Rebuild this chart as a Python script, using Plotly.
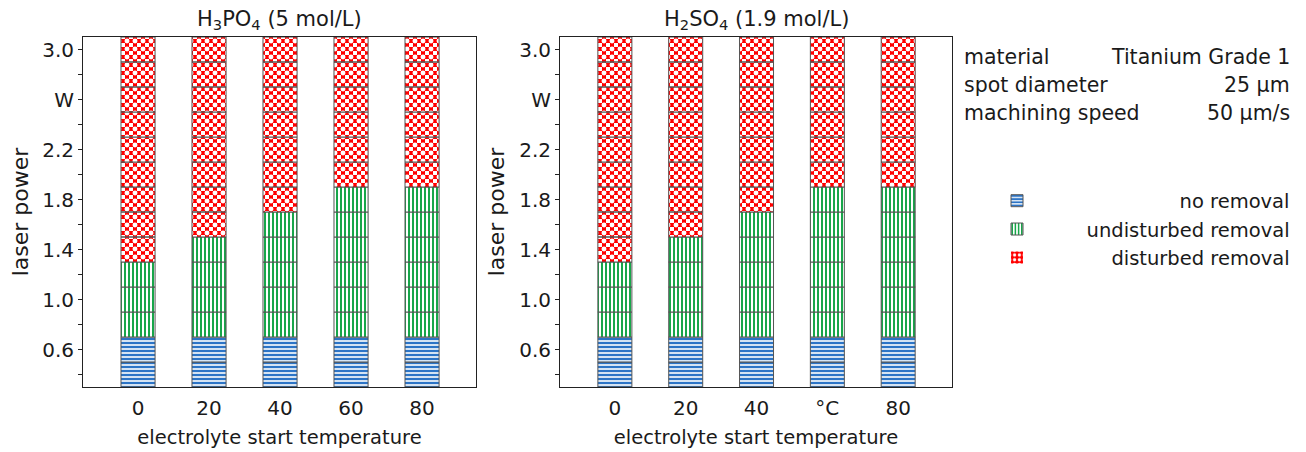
import plotly.graph_objects as go

# ---------------- data ----------------
temperatures = [0, 20, 40, 60, 80]
tick_labels_h3po4 = ["0", "20", "40", "60", "80"]
tick_labels_h2so4 = ["0", "20", "40", "°C", "80"]

power_min = 0.3
power_max = 3.1
power_step = 0.2

no_removal_max_h3po4 = [0.7, 0.7, 0.7, 0.7, 0.7]
undisturbed_max_h3po4 = [1.3, 1.5, 1.7, 1.9, 1.9]
no_removal_max_h2so4 = [0.7, 0.7, 0.7, 0.7, 0.7]
undisturbed_max_h2so4 = [1.3, 1.5, 1.7, 1.9, 1.9]

y_tick_values = [0.6, 1.0, 1.4, 1.8, 2.2, 2.6, 3.0]
y_tick_labels = ["0.6", "1.0", "1.4", "1.8", "2.2", "W", "3.0"]
y_minor_values = [0.4, 0.8, 1.2, 1.6, 2.0, 2.4, 2.8]

classes = ["no removal", "undisturbed removal", "disturbed removal"]
panel_titles = ["H<sub>3</sub>PO<sub>4</sub> (5 mol/L)", "H<sub>2</sub>SO<sub>4</sub> (1.9 mol/L)"]
info_labels = ["material", "spot diameter", "machining speed"]
info_values = ["Titanium Grade 1", "25 µm", "50 µm/s"]

# ---------------- styles ----------------
FONT = "DejaVu Sans"
TXT = "#1a1a1a"
BLUE = "#2c74c6"
GREEN = "#18a64a"
RED = "#ff0000"
EDGE = "#555555"
CLEAR = "rgba(0,0,0,0)"
PAGE_OFFSET = 8          # default body margin of the html page
W, H = 1306 - PAGE_OFFSET, 452 - PAGE_OFFSET


def px_x(p):
    return (p - PAGE_OFFSET) / W


def px_y(p):
    return 1 - (p - PAGE_OFFSET) / H


def segments(no_max, und_max):
    n = int(round((power_max - power_min) / power_step))
    out = {c: ([], []) for c in classes}
    for i in range(len(temperatures)):
        for k in range(n):
            b = round(power_min + k * power_step, 4)
            top = b + power_step
            if top <= no_max[i] + 1e-9:
                c = classes[0]
            elif top <= und_max[i] + 1e-9:
                c = classes[1]
            else:
                c = classes[2]
            out[c][0].append(i)
            out[c][1].append(b)
    return out


fig = go.Figure()

panels = [
    (no_removal_max_h3po4, undisturbed_max_h3po4, "x", "y"),
    (no_removal_max_h2so4, undisturbed_max_h2so4, "x2", "y2"),
]

legend_pad = {classes[0]: 23, classes[1]: 8, classes[2]: 12}


def lname(c):
    return "\u00a0" * legend_pad[c] + c


BAR_W = 0.48

for pi, (nmax, umax, xa, ya) in enumerate(panels):
    seg = segments(nmax, umax)
    first = pi == 0
    # no removal
    xs, bs = seg[classes[0]]
    fig.add_trace(go.Bar(
        x=xs, y=[power_step] * len(xs), base=bs, width=BAR_W,
        name=lname(classes[0]), legendgroup=classes[0], showlegend=first,
        marker=dict(color=BLUE, line=dict(color=EDGE, width=1),
                    pattern=dict(shape="-", fgcolor=BLUE, bgcolor="white",
                                 size=4, solidity=0.6, fillmode="replace")),
        xaxis=xa, yaxis=ya, hoverinfo="skip"))
    # undisturbed removal
    xs, bs = seg[classes[1]]
    fig.add_trace(go.Bar(
        x=xs, y=[power_step] * len(xs), base=bs, width=BAR_W,
        name=lname(classes[1]), legendgroup=classes[1], showlegend=first,
        marker=dict(color=GREEN, line=dict(color=EDGE, width=1),
                    pattern=dict(shape="|", fgcolor=GREEN, bgcolor="white",
                                 size=4, solidity=0.5, fillmode="replace")),
        xaxis=xa, yaxis=ya, hoverinfo="skip"))
    if first:
        # legend key for the checkerboard class
        fig.add_trace(go.Bar(
            x=[None], y=[None], name=lname(classes[2]), legendgroup=classes[2],
            showlegend=True,
            marker=dict(color=RED, line=dict(color=CLEAR, width=0),
                        pattern=dict(shape=".", fgcolor="white", bgcolor=RED,
                                     size=6, solidity=0.35, fillmode="replace")),
            xaxis=xa, yaxis=ya, hoverinfo="skip"))
    # disturbed removal: checkerboard built from three aligned pattern layers
    xs, bs = seg[classes[2]]
    layers = [
        dict(shape="-", fgcolor=RED, bgcolor="white", size=8, solidity=0.5, fillmode="replace"),
        dict(shape="|", fgcolor=RED, bgcolor=CLEAR, size=8, solidity=0.5, fillmode="replace"),
        dict(shape=".", fgcolor="white", bgcolor=CLEAR, size=8, solidity=0.3, fillmode="replace"),
    ]
    for li, pat in enumerate(layers):
        last = li == len(layers) - 1
        fig.add_trace(go.Bar(
            x=xs, y=[power_step] * len(xs), base=bs, width=BAR_W,
            name=classes[2], legendgroup=classes[2], showlegend=False,
            marker=dict(color=RED if li == 0 else CLEAR,
                        line=dict(color=EDGE if last else CLEAR, width=1 if last else 0),
                        pattern=pat),
            xaxis=xa, yaxis=ya, hoverinfo="skip"))

axis_font = dict(family=FONT, size=20, color=TXT)
yaxis_common = dict(
    range=[power_min, power_max], showline=True, linecolor="#222", linewidth=1, mirror=True,
    ticks="outside", ticklen=4, tickwidth=1, tickcolor="#222",
    tickvals=y_tick_values, ticktext=y_tick_labels, tickfont=axis_font,
    minor=dict(tickvals=y_minor_values, ticks="outside", ticklen=4, tickwidth=1, tickcolor="#222"),
    showgrid=False, zeroline=False, fixedrange=True,
    title=dict(text="laser power", font=dict(family=FONT, size=22, color=TXT), standoff=8),
)
xaxis_common = dict(
    range=[-0.775, 4.76], showline=True, linecolor="#222", linewidth=1, mirror=True,
    ticks="", tickvals=list(range(len(temperatures))), tickfont=axis_font,
    ticklabelstandoff=3,
    showgrid=False, zeroline=False, fixedrange=True,
    title=dict(text="electrolyte start temperature", font=dict(family=FONT, size=19.5, color=TXT), standoff=11),
)

x1_dom = [px_x(83), px_x(476)]
x2_dom = [px_x(560), px_x(952)]
y_dom = [px_y(387), px_y(37)]

fig.update_layout(
    width=W, height=H,
    margin=dict(l=0, r=0, t=0, b=0),
    paper_bgcolor="white", plot_bgcolor="white",
    barmode="overlay",
    font=dict(family=FONT, size=20, color=TXT),
    xaxis=dict(domain=x1_dom, anchor="y", ticktext=tick_labels_h3po4, **xaxis_common),
    yaxis=dict(domain=y_dom, anchor="x", **yaxis_common),
    xaxis2=dict(domain=x2_dom, anchor="y2", ticktext=tick_labels_h2so4, **xaxis_common),
    yaxis2=dict(domain=y_dom, anchor="x2", **yaxis_common),
    showlegend=True,
    legend=dict(x=px_x(997), y=px_y(181.5), xanchor="left", yanchor="top",
                font=dict(family=FONT, size=19.5, color=TXT),
                bgcolor=CLEAR, borderwidth=0, tracegroupgap=0, traceorder="normal",
                itemclick=False, itemdoubleclick=False),
)

annotations = []
for title, dom in zip(panel_titles, [x1_dom, x2_dom]):
    annotations.append(dict(text=title, x=(dom[0] + dom[1]) / 2, y=px_y(20), xref="paper", yref="paper",
                            xanchor="center", yanchor="middle", showarrow=False,
                            font=dict(family=FONT, size=21, color=TXT)))
for i, (lab, val) in enumerate(zip(info_labels, info_values)):
    yy = px_y(57 + 28 * i)
    annotations.append(dict(text=lab, x=px_x(962), y=yy, xref="paper", yref="paper",
                            xanchor="left", yanchor="middle", showarrow=False,
                            font=dict(family=FONT, size=20.5, color=TXT)))
    annotations.append(dict(text=val, x=px_x(1292), y=yy, xref="paper", yref="paper",
                            xanchor="right", yanchor="middle", showarrow=False,
                            font=dict(family=FONT, size=20.5, color=TXT)))
fig.update_layout(annotations=annotations)

fig.write_html("out.html", config={"displayModeBar": False})
